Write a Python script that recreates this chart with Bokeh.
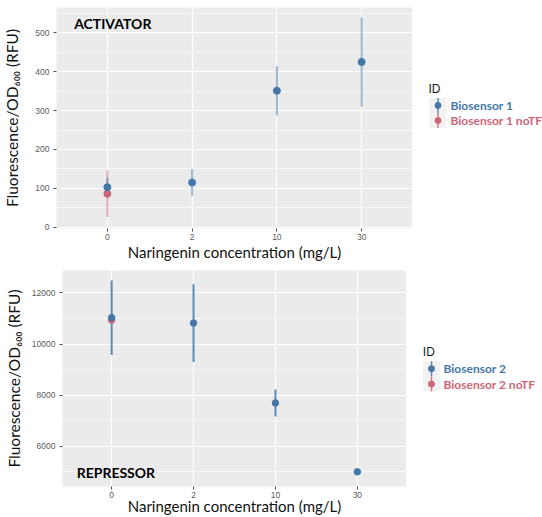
from bokeh.plotting import figure
from bokeh.models import FactorRange, Range1d, SingleIntervalTicker, ColumnDataSource
from bokeh.transform import dodge
from bokeh.layouts import column, row
from bokeh.embed import file_html
from bokeh.resources import INLINE
from bokeh.core.properties import value

# ---------------- data ----------------
conc = ["0", "2", "10", "30"]

# Activator panel
act_bs1_mean = [103, 115, 351, 425]
act_bs1_sd = [25, 34, 63, 115]
act_ntf_conc = ["0"]
act_ntf_mean = [86]
act_ntf_sd = [60]

# Repressor panel
rep_bs2_mean = [11030, 10820, 7690, 4990]
rep_bs2_sd = [1460, 1520, 530, 60]
rep_ntf_conc = ["0"]
rep_ntf_mean = [10940]
rep_ntf_sd = [120]

legend_top = ["Biosensor 1", "Biosensor 1 noTF"]
legend_bot = ["Biosensor 2", "Biosensor 2 noTF"]

BLUE = "#4477AA"
RED = "#CC6677"
PANEL = "#EBEBEB"
TITLE_FONT = "Lato"
TICK_FONT = "Liberation Sans"
YTITLE = "Fluorescence/OD\u2086\u2080\u2080 (RFU)"
XTITLE = "Naringenin concentration (mg/L)"


def panel(width, height, yr, bl, bt, bb, ticker_int, ylab_standoff, xlab_standoff,
          blue_x, blue_m, blue_s, red_x, red_m, red_s, seg_alpha, pt_size,
          tag, tag_dx, tag_y):
    p = figure(width=width, height=height,
               x_range=FactorRange(factors=conc, range_padding=0.1,
                                   range_padding_units="absolute"),
               y_range=Range1d(*yr),
               output_backend="svg", toolbar_location=None,
               min_border_left=bl, min_border_right=0,
               min_border_top=bt, min_border_bottom=bb)
    p.background_fill_color = PANEL
    p.border_fill_color = "white"
    p.outline_line_color = None

    p.yaxis.ticker = SingleIntervalTicker(interval=ticker_int, num_minor_ticks=2)
    for ax in (p.xaxis, p.yaxis):
        ax.axis_line_color = None
        ax.major_tick_line_color = "#4D4D4D"
        ax.major_tick_in = 0
        ax.major_tick_out = 3
        ax.minor_tick_line_color = None
        ax.major_label_text_font = TICK_FONT
        ax.major_label_text_font_size = "8.5px"
        ax.major_label_text_color = "#5A5A5A"
        ax.axis_label_text_font = TITLE_FONT
        ax.axis_label_text_font_style = "normal"
        ax.axis_label_text_color = "#111111"
    p.xaxis.axis_label_text_font_size = "15px"
    p.yaxis.axis_label_text_font_size = "15.5px"
    p.xaxis.major_label_standoff = 2
    p.yaxis.major_label_standoff = 3
    p.xaxis.axis_label_standoff = xlab_standoff
    p.yaxis.axis_label_standoff = ylab_standoff
    p.xaxis.axis_label = XTITLE
    p.yaxis.axis_label = YTITLE

    p.xgrid.grid_line_color = "white"
    p.xgrid.grid_line_width = 1.2
    p.ygrid.grid_line_color = "white"
    p.ygrid.grid_line_width = 1.2
    p.ygrid.minor_grid_line_color = "white"
    p.ygrid.minor_grid_line_width = 0.6

    blue = ColumnDataSource(dict(
        x=blue_x, m=blue_m,
        lo=[m - s for m, s in zip(blue_m, blue_s)],
        hi=[m + s for m, s in zip(blue_m, blue_s)]))
    red = ColumnDataSource(dict(
        x=red_x, m=red_m,
        lo=[m - s for m, s in zip(red_m, red_s)],
        hi=[m + s for m, s in zip(red_m, red_s)]))

    p.segment(x0="x", y0="lo", x1="x", y1="hi", source=red,
              line_color=RED, line_alpha=seg_alpha, line_width=2)
    p.segment(x0="x", y0="lo", x1="x", y1="hi", source=blue,
              line_color=BLUE, line_alpha=seg_alpha, line_width=2)
    p.scatter(x="x", y="m", source=red, size=pt_size,
              fill_color=RED, line_color=RED)
    p.scatter(x="x", y="m", source=blue, size=pt_size,
              fill_color=BLUE, line_color=BLUE)

    tsrc = ColumnDataSource(dict(x=[conc[0]], y=[tag_y], t=[tag]))
    p.text(x=dodge("x", tag_dx, range=p.x_range), y="y", text="t", source=tsrc,
           text_font=value(TITLE_FONT), text_font_style="bold",
           text_font_size="14px", text_color="black",
           text_align="left", text_baseline="middle")
    return p


def legend_fig(width, height, labels, id_xy, box, mx, rows, lx, seg_alpha, pt_size):
    lg = figure(width=width, height=height,
                x_range=Range1d(0, width), y_range=Range1d(height, 0),
                output_backend="svg", toolbar_location=None,
                x_axis_location=None, y_axis_location=None,
                min_border=0)
    lg.grid.visible = False
    lg.outline_line_color = None
    lg.background_fill_color = "white"
    lg.border_fill_color = "white"

    lg.text(x=[id_xy[0]], y=[id_xy[1]], text=["ID"],
            text_font=value(TICK_FONT), text_font_size="12px",
            text_color="#1A1A1A", text_align="left", text_baseline="middle")
    lg.quad(left=[box[0]], right=[box[1]], top=[box[2]], bottom=[box[3]],
            fill_color="#F2F2F2", line_color=None)
    half = (box[3] - box[2]) / 4.0
    cols = [BLUE, RED]
    for (ry, c, lab) in zip(rows, cols, labels):
        lg.segment(x0=[mx], y0=[ry - half], x1=[mx], y1=[ry + half],
                   line_color=c, line_alpha=seg_alpha, line_width=1.5)
        lg.scatter(x=[mx], y=[ry], size=pt_size, fill_color=c, line_color=c)
        lg.text(x=[lx], y=[ry], text=[lab],
                text_font=value(TITLE_FONT), text_font_style="bold",
                text_font_size="12px", text_color=c,
                text_align="left", text_baseline="middle")
    return lg


p1 = panel(412, 264, (-3.3, 565.1), 55, 7, 36, 100, 11, 0,
           conc, act_bs1_mean, act_bs1_sd,
           act_ntf_conc, act_ntf_mean, act_ntf_sd, 0.5, 7,
           "ACTIVATOR", -0.392, 524.7)
lg1 = legend_fig(130, 264, legend_top, (16, 97), (17, 34, 108, 144), 25.5,
                 (117, 135), 38, 0.85, 6)

p2 = panel(406, 253, (4415.5, 12881.6), 62, 6, 30, 2000, 6, -4,
           conc, rep_bs2_mean, rep_bs2_sd,
           rep_ntf_conc, rep_ntf_mean, rep_ntf_sd, 0.85, 6.5,
           "REPRESSOR", -0.427, 4948)
lg2 = legend_fig(136, 253, legend_bot, (16.3, 96), (16.5, 33.5, 106, 141), 25,
                 (115, 133), 37, 0.85, 6)

layout = column(row(p1, lg1), row(p2, lg2))
open("out.html", "w").write(file_html(layout, INLINE))
